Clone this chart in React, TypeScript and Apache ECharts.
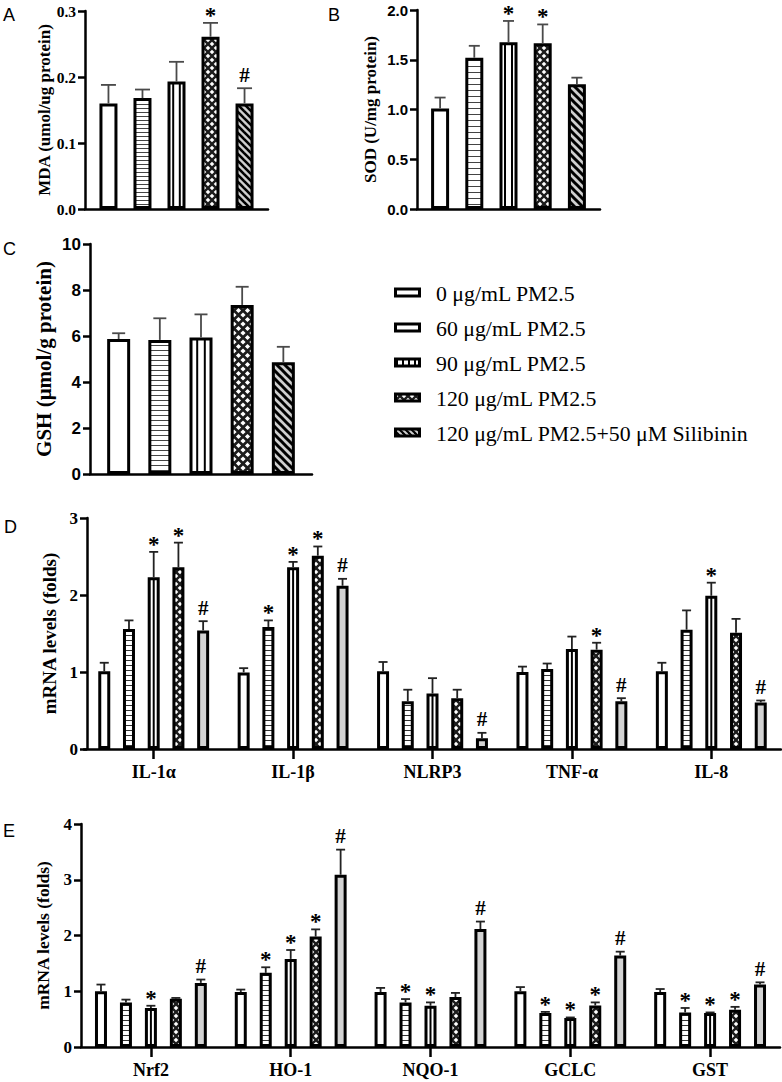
import React, { useEffect, useRef } from 'react';
import * as echarts from 'echarts';

// ---------- DATA ----------
const groups = [
  '0 μg/mL PM2.5',
  '60 μg/mL PM2.5',
  '90 μg/mL PM2.5',
  '120 μg/mL PM2.5',
  '120 μg/mL PM2.5+50 μM Silibinin',
];

// Panel A – MDA (mean, upper end of error bar, marks)
const mdaMean = [0.16, 0.168, 0.193, 0.261, 0.16];
const mdaErr = [0.188, 0.181, 0.223, 0.282, 0.183];
const mdaMarks = ['', '', '', '*', '#'];

// Panel B – SOD
const sodMean = [1.01, 1.52, 1.675, 1.665, 1.253];
const sodErr = [1.12, 1.64, 1.89, 1.855, 1.32];
const sodMarks = ['', '', '*', '*', ''];

// Panel C – GSH
const gshMean = [5.87, 5.83, 5.94, 7.35, 4.86];
const gshErr = [6.12, 6.77, 6.94, 8.14, 5.53];
const gshMarks = ['', '', '', '', ''];

// Panel D – inflammatory genes
const inflamGenes = ['IL-1α', 'IL-1β', 'NLRP3', 'TNF-α', 'IL-8'];
const dMean0 = [1.01, 0.995, 1.01, 1.0, 1.01];
const dErr0 = [1.12, 1.05, 1.13, 1.07, 1.12];
const dMarks0 = ['', '', '', '', ''];
const dMean60 = [1.56, 1.585, 0.62, 1.04, 1.55];
const dErr60 = [1.67, 1.67, 0.77, 1.11, 1.8];
const dMarks60 = ['', '*', '', '', ''];
const dMean90 = [2.23, 2.36, 0.72, 1.3, 1.99];
const dErr90 = [2.56, 2.43, 0.92, 1.46, 2.16];
const dMarks90 = ['*', '*', '', '', '*'];
const dMean120 = [2.36, 2.51, 0.66, 1.29, 1.51];
const dErr120 = [2.68, 2.63, 0.77, 1.38, 1.69];
const dMarks120 = ['*', '*', '', '*', ''];
const dMeanSil = [1.54, 2.12, 0.14, 0.62, 0.605];
const dErrSil = [1.66, 2.21, 0.21, 0.66, 0.63];
const dMarksSil = ['#', '#', '#', '#', '#'];

// Panel E – antioxidant genes
const oxGenes = ['Nrf2', 'HO-1', 'NQO-1', 'GCLC', 'GST'];
const eMean0 = [1.0, 0.985, 0.985, 1.0, 0.985];
const eErr0 = [1.12, 1.03, 1.06, 1.075, 1.04];
const eMarks0 = ['', '', '', '', ''];
const eMean60 = [0.8, 1.33, 0.8, 0.61, 0.62];
const eErr60 = [0.85, 1.43, 0.86, 0.63, 0.7];
const eMarks60 = ['', '*', '*', '*', '*'];
const eMean90 = [0.7, 1.58, 0.74, 0.52, 0.61];
const eErr90 = [0.74, 1.74, 0.8, 0.53, 0.62];
const eMarks90 = ['*', '*', '*', '*', '*'];
const eMean120 = [0.866, 1.98, 0.895, 0.745, 0.67];
const eErr120 = [0.88, 2.11, 0.97, 0.8, 0.72];
const eMarks120 = ['', '*', '', '*', '*'];
const eMeanSil = [1.15, 3.09, 2.115, 1.64, 1.12];
const eErrSil = [1.21, 3.54, 2.25, 1.71, 1.16];
const eMarksSil = ['#', '#', '#', '#', '#'];

const yTicksA = [0, 0.3, 0.1];
const yTicksB = [0, 2, 0.5];
const yTicksC = [0, 10, 2];
const yTicksD = [0, 3, 1];
const yTicksE = [0, 4, 1];

// ---------- STYLE ----------
const SERIF = "'Liberation Serif', 'Times New Roman', serif";
const SANS = "'Liberation Sans', Arial, sans-serif";

function makeCanvas(w: number, h: number, draw: (ctx: CanvasRenderingContext2D) => void) {
  const c = document.createElement('canvas');
  c.width = w;
  c.height = h;
  const ctx = c.getContext('2d')!;
  draw(ctx);
  return c;
}
function pat(c: HTMLCanvasElement) {
  return { image: c, repeat: 'repeat', imageWidth: c.width, imageHeight: c.height };
}
function hLines(spacing: number, color = '#444') {
  return pat(
    makeCanvas(8, spacing, (ctx) => {
      ctx.fillStyle = '#fff';
      ctx.fillRect(0, 0, 8, spacing);
      ctx.fillStyle = color;
      ctx.fillRect(0, 0, 8, 1);
    })
  );
}
function vLines(spacing: number) {
  return pat(
    makeCanvas(spacing, 8, (ctx) => {
      ctx.fillStyle = '#fff';
      ctx.fillRect(0, 0, spacing, 8);
      ctx.fillStyle = '#000';
      ctx.fillRect(0, 0, 2, 8);
    })
  );
}
function diamonds(size: number, r: number) {
  return pat(
    makeCanvas(size, size, (ctx) => {
      ctx.fillStyle = '#1c1c1c';
      ctx.fillRect(0, 0, size, size);
      ctx.fillStyle = '#fff';
      const centers = [
        [0, 0],
        [size, 0],
        [0, size],
        [size, size],
        [size / 2, size / 2],
      ];
      centers.forEach(([cx, cy]) => {
        ctx.beginPath();
        ctx.moveTo(cx, cy - r);
        ctx.lineTo(cx + r, cy);
        ctx.lineTo(cx, cy + r);
        ctx.lineTo(cx - r, cy);
        ctx.closePath();
        ctx.fill();
      });
    })
  );
}
function diag(size: number, lw: number) {
  return pat(
    makeCanvas(size, size, (ctx) => {
      ctx.fillStyle = '#cfcfcf';
      ctx.fillRect(0, 0, size, size);
      ctx.strokeStyle = '#000';
      ctx.lineWidth = lw;
      for (const k of [-size, 0, size]) {
        ctx.beginPath();
        ctx.moveTo(k - 2, -2);
        ctx.lineTo(k + size + 2, size + 2);
        ctx.stroke();
      }
    })
  );
}

function buildOption() {
  const fillsA = ['#ffffff', hLines(4), '#ffffff', diamonds(8, 2.3), diag(7, 2.6)];
  const fillsB = ['#ffffff', hLines(6), '#ffffff', diamonds(8, 2.3), diag(8, 3)];
  const fillsC = ['#ffffff', hLines(5), '#ffffff', diamonds(9, 2.6), diag(8, 3)];
  const fillsD = ['#ffffff', hLines(5, '#333'), '#ffffff', diamonds(8, 2.3), '#d3d3d3'];
  const fillsE = ['#ffffff', hLines(5, '#333'), '#ffffff', diamonds(8, 2.3), '#d3d3d3'];

  const panels = [
    {
      cats: [''],
      means: mdaMean.map((v) => [v]),
      errs: mdaErr.map((v) => [v]),
      marks: mdaMarks.map((v) => [v]),
      fills: fillsA,
      bw: 18,
      gap: '89%',
      cap: 15,
      stripes: [-3.3, 3.3],
      errColor: '#4a4a4a',
    },
    {
      cats: [''],
      means: sodMean.map((v) => [v]),
      errs: sodErr.map((v) => [v]),
      marks: sodMarks.map((v) => [v]),
      fills: fillsB,
      bw: 18,
      gap: '90%',
      cap: 11,
      stripes: [-3.5, 3.5],
      errColor: '#4a4a4a',
    },
    {
      cats: [''],
      means: gshMean.map((v) => [v]),
      errs: gshErr.map((v) => [v]),
      marks: gshMarks.map((v) => [v]),
      fills: fillsC,
      bw: 23,
      gap: '79%',
      cap: 13,
      stripes: [-3.8, 3.8],
      errColor: '#4a4a4a',
    },
    {
      cats: inflamGenes,
      means: [dMean0, dMean60, dMean90, dMean120, dMeanSil],
      errs: [dErr0, dErr60, dErr90, dErr120, dErrSil],
      marks: [dMarks0, dMarks60, dMarks90, dMarks120, dMarksSil],
      fills: fillsD,
      bw: 12,
      gap: '106%',
      cap: 9,
      stripes: [0],
      errColor: '#222',
    },
    {
      cats: oxGenes,
      means: [eMean0, eMean60, eMean90, eMean120, eMeanSil],
      errs: [eErr0, eErr60, eErr90, eErr120, eErrSil],
      marks: [eMarks0, eMarks60, eMarks90, eMarks120, eMarksSil],
      fills: fillsE,
      bw: 12,
      gap: '108%',
      cap: 9,
      stripes: [0],
      errColor: '#222',
    },
  ];

  const grids = [
    { left: 85, top: 11, width: 183, height: 198 },
    { left: 417, top: 10, width: 183, height: 199 },
    { left: 90, top: 244, width: 222, height: 230 },
    { left: 84, top: 518, width: 697, height: 231 },
    { left: 81, top: 824, width: 699, height: 223 },
  ].map((g) => ({ ...g, outerBoundsMode: 'none', containLabel: false }));

  const axisLine = { show: true, lineStyle: { color: '#000', width: 2.5 } };

  const xAxes = panels.map((p, i) => {
    const isGene = i >= 3;
    return {
      type: 'category',
      gridIndex: i,
      data: p.cats,
      axisLine,
      axisTick: isGene
        ? { show: true, alignWithLabel: true, length: 10, lineStyle: { color: '#000', width: 2.5 } }
        : { show: false },
      axisLabel: isGene
        ? { show: true, fontFamily: SERIF, fontWeight: 'bold', fontSize: 18, color: '#000', margin: 14 }
        : { show: false },
    };
  });

  const ySpecs = [
    { t: yTicksA, name: 'MDA (umol/ug protein)', nameSize: 17, gap: 31, font: SERIF, size: 15.5, fmt: (v: number) => v.toFixed(1) },
    { t: yTicksB, name: 'SOD (U/mg protein)', nameSize: 17, gap: 38, font: SANS, size: 15, fmt: (v: number) => v.toFixed(1) },
    { t: yTicksC, name: 'GSH (μmol/g protein)', nameSize: 21, gap: 36, font: SANS, size: 17, fmt: (v: number) => String(v) },
    { t: yTicksD, name: 'mRNA levels (folds)', nameSize: 19, gap: 28, font: SERIF, size: 17, fmt: (v: number) => String(v), offset: -3 },
    { t: yTicksE, name: 'mRNA levels (folds)', nameSize: 17.5, gap: 29, font: SERIF, size: 17, fmt: (v: number) => String(v) },
  ];

  const yAxes = ySpecs.map((s, i) => ({
    type: 'value',
    gridIndex: i,
    min: s.t[0],
    max: s.t[1],
    interval: s.t[2],
    offset: (s as any).offset || 0,
    axisLine,
    axisTick: { show: true, length: 7, lineStyle: { color: '#000', width: 2.5 } },
    splitLine: { show: false },
    axisLabel: {
      fontFamily: s.font,
      fontWeight: 'bold',
      fontSize: s.size,
      color: '#000',
      margin: 9,
      formatter: s.fmt,
    },
    name: s.name,
    nameLocation: 'middle',
    nameGap: s.gap,
    nameTextStyle: { fontFamily: SERIF, fontWeight: 'bold', fontSize: s.nameSize, color: '#000' },
  }));

  const series: any[] = [];
  panels.forEach((p, pi) => {
    groups.forEach((g, gi) => {
      series.push({
        type: 'bar',
        name: g,
        xAxisIndex: pi,
        yAxisIndex: pi,
        data: p.means[gi],
        barWidth: p.bw,
        barGap: p.gap,
        silent: true,
        z: 2,
        itemStyle: { color: p.fills[gi], borderColor: '#000', borderWidth: 3 },
      });
    });
  });

  panels.forEach((p, pi) => {
    const data: number[][] = [];
    const marks: string[] = [];
    p.means.forEach((arr, gi) => {
      arr.forEach((m, ci) => {
        data.push([ci, gi, m, p.errs[gi][ci]]);
        marks.push(p.marks[gi][ci]);
      });
    });
    series.push({
      type: 'custom',
      name: 'err' + pi,
      xAxisIndex: pi,
      yAxisIndex: pi,
      data,
      encode: { x: 0, y: 3 },
      silent: true,
      z: 5,
      renderItem: (params: any, api: any) => {
        const c = api.value(0);
        const g = api.value(1);
        const m = api.value(2);
        const e = api.value(3);
        const layout = api.barLayout({ count: 5, barWidth: p.bw, barGap: p.gap });
        const off = layout[g].offsetCenter;
        const top = api.coord([c, e]);
        const mid = api.coord([c, m]);
        const base = api.coord([c, 0]);
        const x = top[0] + off;
        const children: any[] = [
          {
            type: 'line',
            shape: { x1: x, y1: mid[1], x2: x, y2: top[1] },
            style: { stroke: p.errColor, lineWidth: 1.8 },
          },
          {
            type: 'line',
            shape: { x1: x - p.cap / 2, y1: top[1], x2: x + p.cap / 2, y2: top[1] },
            style: { stroke: p.errColor, lineWidth: 1.8 },
          },
        ];
        if (g === 2) {
          p.stripes.forEach((dx) => {
            children.push({
              type: 'line',
              shape: { x1: x + dx, y1: base[1], x2: x + dx, y2: mid[1] + 1 },
              style: { stroke: '#000', lineWidth: 2 },
            });
          });
        }
        const mk = marks[params.dataIndex];
        if (mk) {
          const star = mk === '*';
          children.push({
            type: 'text',
            style: {
              text: mk,
              x,
              y: top[1] - (star ? -4 : 3),
              align: 'center',
              verticalAlign: 'bottom',
              fontFamily: SERIF,
              fontWeight: 'bold',
              fontSize: star ? 23 : 21,
              fill: '#000',
            },
          });
        }
        return { type: 'group', children };
      },
    });
  });

  // legend + panel letters
  const legendFills = ['#ffffff', '#ffffff', vLines(6), diamonds(8, 2.3), diag(6, 2.2)];
  const legendY = [292.5, 327.5, 362.5, 397.5, 432.5];
  const graphics: any[] = [];
  groups.forEach((g, i) => {
    graphics.push({
      type: 'rect',
      shape: { x: 395.5, y: legendY[i] - 3.5, width: 24, height: 7 },
      style: { fill: legendFills[i], stroke: '#000', lineWidth: 3 },
      silent: true,
    });
    graphics.push({
      type: 'text',
      x: 436,
      y: legendY[i] + 1,
      style: {
        text: g,
        verticalAlign: 'middle',
        fontFamily: SERIF,
        fontSize: 21.8,
        fill: '#000',
      },
      silent: true,
    });
  });
  const letters = [
    ['A', 3, 6],
    ['B', 328, 6],
    ['C', 3, 240],
    ['D', 4, 518],
    ['E', 3, 822],
  ];
  letters.forEach(([t, x, y]) => {
    graphics.push({
      type: 'text',
      x,
      y,
      style: { text: t, fontFamily: SANS, fontSize: 18, fill: '#000', verticalAlign: 'top' },
      silent: true,
    });
  });

  return {
    animation: false,
    backgroundColor: '#ffffff',
    grid: grids,
    xAxis: xAxes,
    yAxis: yAxes,
    series,
    graphic: graphics,
  };
}

export default function App() {
  const ref = useRef<HTMLDivElement>(null);
  useEffect(() => {
    const chart = echarts.init(ref.current!, null, { renderer: 'svg' });
    chart.setOption(buildOption() as any);
    return () => chart.dispose();
  }, []);
  return (
    <div
      ref={ref}
      style={{ position: 'absolute', left: 0, top: 0, width: 782, height: 1082, background: '#fff' }}
    />
  );
}
